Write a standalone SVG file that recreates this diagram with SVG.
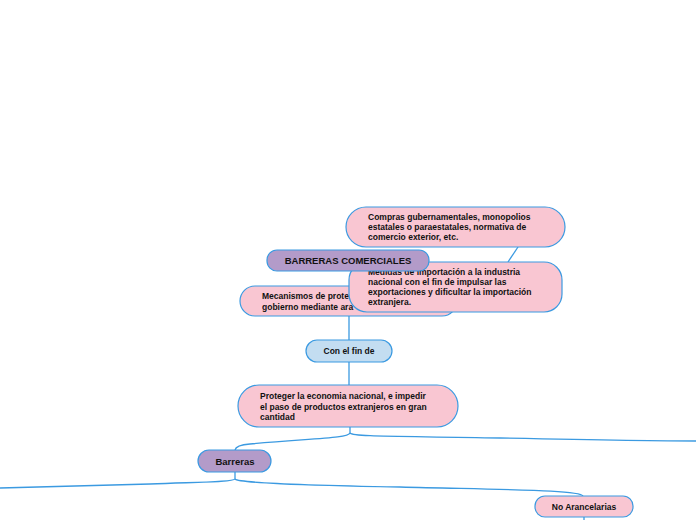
<svg xmlns="http://www.w3.org/2000/svg" width="696" height="520" viewBox="0 0 696 520">
<style>
.pink{fill:#f9c6d2;stroke:#3b9ae1;stroke-width:1.2}
.purple{fill:#b39bc9;stroke:#3b9ae1;stroke-width:1.2}
.blue{fill:#c3ddf1;stroke:#3b9ae1;stroke-width:1.2}
.t{font-family:"Liberation Sans",Arial,sans-serif;font-weight:bold;font-size:8.5px;fill:#111}
.c{text-anchor:middle}
.ln{fill:none;stroke:#3b9ae1;stroke-width:1.3}
</style>
<rect width="696" height="520" fill="#ffffff"/>
<g id="connectors">
<path class="ln" d="M518,247 L508,262"/>
<path class="ln" d="M349,316 L349,340"/>
<path class="ln" d="M349,362 L349,385"/>
<path class="ln" d="M350,427 L350,433"/>
<path class="ln" d="M350,433 C348,438 320,438 250,444 Q236,445 235,450"/>
<path class="ln" d="M350,433 C353,437 400,436 500,438 S650,441 696,441"/>
<path class="ln" d="M235,472 L235,479"/>
<path class="ln" d="M235,479 C233,482 200,482 150,484 L0,488"/>
<path class="ln" d="M235,479 C238,483 300,485 400,487 C520,490 580,490 583,496"/>
<path class="ln" d="M584,517 L584,520"/>
</g>
<g id="compras">
<rect class="pink" x="346" y="207" width="219" height="40" rx="20"/>
<text class="t" x="368" y="219.5">Compras gubernamentales, monopolios</text>
<text class="t" x="368" y="229.5">estatales o paraestatales, normativa de</text>
<text class="t" x="368" y="239.5">comercio exterior, etc.</text>
</g>
<g id="mecanismos">
<rect class="pink" x="240" y="286" width="217" height="30" rx="15"/>
<text class="t" x="262" y="299">Mecanismos de prote</text>
<text class="t" x="262" y="309.5">gobierno mediante ara</text>
</g>
<g id="medidas">
<rect class="pink" x="349" y="262" width="213" height="50" rx="18"/>
<text class="t" x="368" y="275">Medidas de importación a la industria</text>
<text class="t" x="368" y="285">nacional con el fin de impulsar las</text>
<text class="t" x="368" y="295">exportaciones y dificultar la importación</text>
<text class="t" x="368" y="304.5">extranjera.</text>
</g>
<g id="titulo">
<rect class="purple" x="267" y="250" width="162" height="21" rx="10"/>
<text class="t c" x="348" y="263.5" style="font-size:9.5px">BARRERAS COMERCIALES</text>
</g>
<g id="confin">
<rect class="blue" x="306" y="340" width="86" height="22" rx="11"/>
<text class="t c" x="349" y="354">Con el fin de</text>
</g>
<g id="proteger">
<rect class="pink" x="238" y="385" width="220" height="42" rx="21"/>
<text class="t" x="260" y="399">Proteger la economia nacional, e impedir</text>
<text class="t" x="260" y="409.5">el paso de productos extranjeros en gran</text>
<text class="t" x="260" y="420">cantidad</text>
</g>
<g id="barreras">
<rect class="purple" x="198" y="450" width="73" height="22" rx="11"/>
<text class="t c" x="235" y="464.5" style="font-size:9.5px">Barreras</text>
</g>
<g id="noarancelarias">
<rect class="pink" x="535" y="496" width="98" height="21" rx="10"/>
<text class="t c" x="584" y="510">No Arancelarias</text>
</g>
</svg>
